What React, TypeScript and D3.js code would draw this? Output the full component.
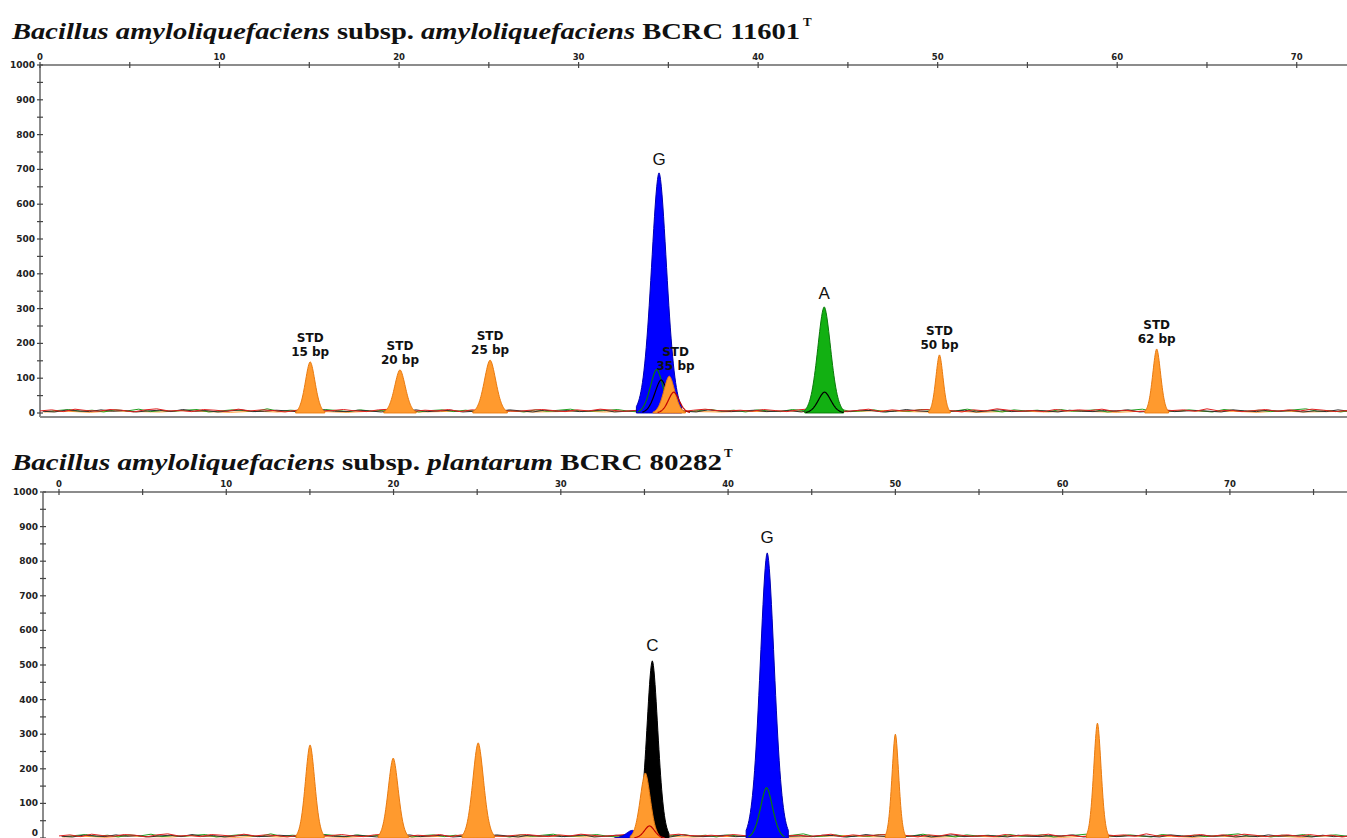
import React from 'react';
import * as d3 from 'd3';

// ---------- data ----------
const xTickValues = [0, 10, 20, 30, 40, 50, 60, 70];
const xMinorTicks = [5, 15, 25, 35, 45, 55, 65, 75];
const yTickValues = [0, 100, 200, 300, 400, 500, 600, 700, 800, 900, 1000];
const yMinorTicks = [50, 150, 250, 350, 450, 550, 650, 750, 850, 950];

const titleTopParts = [
  { t: 'Bacillus amyloliquefaciens', italic: true },
  { t: ' subsp. ', italic: false },
  { t: 'amyloliquefaciens', italic: true },
  { t: ' BCRC 11601', italic: false },
];
const titleBottomParts = [
  { t: 'Bacillus amyloliquefaciens', italic: true },
  { t: ' subsp. ', italic: false },
  { t: 'plantarum', italic: true },
  { t: ' BCRC 80282', italic: false },
];
const titleSuperscript = 'T';

// peaks: dye, centre (x), height, width (sigma), filled
const topPeaks = [
  { dye: 'orange', x: 15.05, h: 147, s: 0.27, fill: true },
  { dye: 'orange', x: 20.05, h: 124, s: 0.3, fill: true },
  { dye: 'orange', x: 25.07, h: 152, s: 0.32, fill: true },
  { dye: 'blue', x: 34.48, h: 690, s: 0.42, fill: true },
  { dye: 'green', x: 34.35, h: 125, s: 0.35, fill: false },
  { dye: 'black', x: 34.6, h: 95, s: 0.35, fill: false },
  { dye: 'orange', x: 35.05, h: 106, s: 0.3, fill: true },
  { dye: 'red', x: 35.3, h: 60, s: 0.3, fill: false },
  { dye: 'green', x: 43.68, h: 305, s: 0.36, fill: true },
  { dye: 'black', x: 43.7, h: 60, s: 0.35, fill: false },
  { dye: 'orange', x: 50.1, h: 167, s: 0.2, fill: true },
  { dye: 'orange', x: 62.2, h: 184, s: 0.22, fill: true },
];
const bottomPeaks = [
  { dye: 'orange', x: 15.01, h: 269, s: 0.28, fill: true },
  { dye: 'orange', x: 19.98, h: 231, s: 0.3, fill: true },
  { dye: 'orange', x: 25.06, h: 275, s: 0.32, fill: true },
  { dye: 'blue', x: 34.27, h: 22, s: 0.35, fill: true },
  { dye: 'black', x: 35.47, h: 512, s: 0.33, fill: true },
  { dye: 'orange', x: 35.05, h: 188, s: 0.3, fill: true },
  { dye: 'red', x: 35.3, h: 35, s: 0.3, fill: false },
  { dye: 'blue', x: 42.34, h: 824, s: 0.42, fill: true },
  { dye: 'green', x: 42.3, h: 145, s: 0.36, fill: false },
  { dye: 'orange', x: 50.0, h: 300, s: 0.2, fill: true },
  { dye: 'orange', x: 62.08, h: 332, s: 0.22, fill: true },
];

const topStdLabels = [
  { x: 15.05, h: 147, lines: ['STD', '15 bp'] },
  { x: 20.05, h: 124, lines: ['STD', '20 bp'] },
  { x: 25.07, h: 152, lines: ['STD', '25 bp'] },
  { x: 35.4, h: 106, lines: ['STD', '35 bp'] },
  { x: 50.1, h: 167, lines: ['STD', '50 bp'] },
  { x: 62.2, h: 184, lines: ['STD', '62 bp'] },
];
const topBaseLabels = [
  { x: 34.48, h: 690, text: 'G' },
  { x: 43.68, h: 305, text: 'A' },
];
const bottomBaseLabels = [
  { x: 35.47, h: 512, text: 'C' },
  { x: 42.34, h: 824, text: 'G' },
];

// baseline noise read at 0.65-unit steps
const noiseRed = [
  6, 9, 4, 11, 7, 5, 10, 8, 3, 9, 12, 6, 7, 4, 10, 8, 5, 11, 6, 9, 7, 3, 8, 12, 5, 7, 10, 6, 4, 9,
  11, 7, 5, 8, 6, 10, 4, 9, 7, 12, 6, 5, 8, 10, 7, 4, 9, 6, 11, 8, 5, 7, 10, 6, 9, 4, 8, 11, 7, 6,
  8, 5, 10, 7, 4, 9, 12, 6, 8, 5, 7, 11, 4, 9, 6, 8, 10, 5, 7, 3, 9, 6, 12, 8, 5, 7, 4, 10, 6, 9,
  7, 11, 5, 8, 4, 6, 10, 7, 9, 5, 12, 6, 8, 4, 7, 10, 5, 9, 6, 11, 8, 4, 7, 9, 5, 10, 6, 8, 3, 7,
];
const noiseGreen = [
  4, 7, 10, 5, 8, 3, 9, 6, 11, 4, 7, 5, 8, 10, 3, 6, 9, 7, 4, 12, 5, 8, 6, 3, 10, 7, 4, 9, 5, 8,
  6, 11, 3, 7, 9, 4, 8, 5, 10, 6, 7, 3, 9, 5, 8, 11, 4, 6, 7, 10, 5, 3, 8, 6, 9, 4, 7, 10, 5, 8,
  3, 9, 6, 4, 10, 7, 5, 8, 12, 4, 6, 9, 3, 7, 5, 10, 8, 4, 6, 11, 5, 7, 3, 9, 6, 8, 4, 10, 5, 7,
  9, 3, 6, 8, 11, 4, 7, 5, 9, 6, 3, 10, 7, 5, 8, 4, 6, 9, 12, 5, 7, 3, 8, 6, 10, 4, 7, 9, 5, 6,
];
const noiseBlack = [
  5, 3, 8, 6, 4, 9, 5, 7, 3, 6, 8, 4, 10, 5, 7, 3, 6, 9, 4, 5, 8, 6, 3, 7, 9, 5, 4, 8, 6, 3,
  7, 5, 9, 4, 6, 8, 3, 5, 7, 4, 9, 6, 3, 8, 5, 7, 4, 6, 9, 3, 5, 8, 6, 4, 7, 5, 3, 9, 6, 4,
  6, 8, 4, 5, 7, 3, 9, 5, 6, 4, 8, 7, 3, 5, 10, 6, 4, 7, 5, 8, 3, 6, 9, 4, 5, 7, 6, 3, 8, 5,
  4, 7, 6, 9, 3, 5, 8, 4, 6, 7, 5, 3, 9, 6, 4, 8, 5, 7, 3, 6, 4, 9, 5, 7, 6, 3, 8, 4, 5, 7,
];
const noiseOrange = [
  3, 5, 2, 6, 4, 3, 7, 4, 2, 5, 3, 6, 4, 2, 5, 7, 3, 4, 6, 2, 5, 3, 4, 6, 3, 5, 2, 7, 4, 3,
  5, 4, 6, 2, 3, 5, 7, 4, 3, 6, 2, 4, 5, 3, 6, 4, 2, 5, 3, 7, 4, 5, 2, 6, 3, 4, 5, 2, 6, 4,
];
const noiseStep = 0.65;
const noiseStepOrange = 1.3;

// ---------- styles ----------
const dyeFill: Record<string, string> = {
  blue: '#0000ff',
  green: '#12b012',
  black: '#000000',
  orange: '#ff9a2e',
  red: '#e01010',
};
const dyeStroke: Record<string, string> = {
  blue: '#0000b0',
  green: '#0a7a0a',
  black: '#000000',
  orange: '#e87a10',
  red: '#c00000',
};
const axisColor = '#8c8c8c';
const tickFont = 'DejaVu Sans, Verdana, sans-serif';

type Panel = {
  x: d3.ScaleLinear<number, number>;
  y: d3.ScaleLinear<number, number>;
  axisX: number;
  axisY: number;
  bottomY: number;
};

function peakPoints(p: { x: number; h: number; s: number }) {
  const n = 60;
  const pts: [number, number][] = [];
  for (let i = 0; i <= n; i++) {
    const xv = p.x - 3 * p.s + (6 * p.s * i) / n;
    const d = (xv - p.x) / p.s;
    pts.push([xv, p.h * Math.exp(-0.5 * Math.pow(Math.abs(d), 1.8))]);
  }
  return pts;
}

function Axes({ P, showBottomLine }: { P: Panel; showBottomLine: boolean }) {
  return (
    <g>
      <line x1={P.axisX} x2={1347} y1={P.axisY} y2={P.axisY} stroke={axisColor} strokeWidth={2} />
      <line x1={P.axisX} x2={P.axisX} y1={P.axisY} y2={P.bottomY} stroke={axisColor} strokeWidth={2} />
      {showBottomLine && (
        <line x1={P.axisX} x2={1347} y1={P.bottomY} y2={P.bottomY} stroke={axisColor} strokeWidth={2} />
      )}
      {xTickValues.concat(xMinorTicks).filter((v) => P.x(v) <= 1347).map((v) => (
        <line key={'xt' + v} x1={P.x(v)} x2={P.x(v)} y1={P.axisY - 3} y2={P.axisY + 3} stroke="#444" strokeWidth={1.2} />
      ))}
      {xTickValues.map((v) => (
        <text key={'xl' + v} x={P.x(v)} y={P.axisY - 5} textAnchor="middle" fontFamily={tickFont} fontWeight="bold" fontSize={8.5} fill="#222">
          {v}
        </text>
      ))}
      {yTickValues.concat(yMinorTicks).map((v) => (
        <line key={'yt' + v} x1={P.axisX - 3} x2={P.axisX + 3} y1={P.y(v)} y2={P.y(v)} stroke="#444" strokeWidth={1.2} />
      ))}
      {yTickValues.map((v) => (
        <text key={'yl' + v} x={P.axisX - 5} y={Math.min(P.y(v) + 3, 836)} textAnchor="end" fontFamily={tickFont} fontWeight="bold" fontSize={9} fill="#222">
          {v}
        </text>
      ))}
    </g>
  );
}

function Trace({ P, peaks }: { P: Panel; peaks: typeof topPeaks }) {
  const area = d3
    .area<[number, number]>()
    .x((d) => P.x(d[0]))
    .y0(P.y(0))
    .y1((d) => P.y(d[1]));
  const line = d3
    .line<[number, number]>()
    .x((d) => P.x(d[0]))
    .y((d) => P.y(d[1]));
  const noiseLine = (arr: number[], step: number, off: number) =>
    line(arr.map((v, i) => [i * step + off, v] as [number, number]).filter((d) => d[0] <= P.x.domain()[1] + 1));
  return (
    <g>
      <path d={noiseLine(noiseOrange, noiseStepOrange, 0.2) || ''} fill="none" stroke="#ff9a2e" strokeWidth={1} />
      <path d={noiseLine(noiseGreen, noiseStep, 0.3) || ''} fill="none" stroke="#20a020" strokeWidth={1} />
      <path d={noiseLine(noiseBlack, noiseStep, 0.15) || ''} fill="none" stroke="#333" strokeWidth={1} />
      <path d={noiseLine(noiseRed, noiseStep, 0) || ''} fill="none" stroke="#e02020" strokeWidth={1} />
      {peaks.map((p, i) =>
        p.fill ? (
          <path key={i} d={area(peakPoints(p)) || ''} fill={dyeFill[p.dye]} stroke={dyeStroke[p.dye]} strokeWidth={1} />
        ) : (
          <path key={i} d={line(peakPoints(p)) || ''} fill="none" stroke={dyeStroke[p.dye]} strokeWidth={1.2} />
        )
      )}
    </g>
  );
}

function Title({ parts, x, y, len, supX, supY }: { parts: typeof titleTopParts; x: number; y: number; len: number; supX: number; supY: number }) {
  return (
    <g>
      <text x={x} y={y} fontFamily="'Liberation Serif', 'Times New Roman', serif" fontWeight="bold" fontSize={24} textLength={len} lengthAdjust="spacingAndGlyphs" fill="#111">
        {parts.map((p, i) => (
          <tspan key={i} fontStyle={p.italic ? 'italic' : 'normal'}>
            {p.t}
          </tspan>
        ))}
      </text>
      <text x={supX} y={supY} fontFamily="'Liberation Serif', 'Times New Roman', serif" fontWeight="bold" fontSize={13} fill="#111">
        {titleSuperscript}
      </text>
    </g>
  );
}

export default function App() {
  const top: Panel = {
    x: d3.scaleLinear().domain([0, 72.8]).range([40, 1347]),
    y: d3.scaleLinear().domain([0, 1000]).range([413, 65]),
    axisX: 40,
    axisY: 65,
    bottomY: 417,
  };
  const bottom: Panel = {
    x: d3.scaleLinear().domain([0, 77]).range([59, 1347]),
    y: d3.scaleLinear().domain([0, 1000]).range([838, 492]),
    axisX: 43,
    axisY: 492,
    bottomY: 840,
  };
  const labelFont = 'DejaVu Sans, Verdana, sans-serif';
  return (
    <svg width={1347} height={838} style={{ position: 'absolute', left: 0, top: 0, background: '#fff' }}>
      <rect width={1347} height={838} fill="#fff" />
      <Title parts={titleTopParts} x={12} y={39} len={788} supX={803} supY={26} />
      <Title parts={titleBottomParts} x={12} y={470} len={710} supX={724} supY={457} />

      <Axes P={top} showBottomLine={true} />
      <Trace P={top} peaks={topPeaks} />
      {topStdLabels.map((l, i) => (
        <text key={'s' + i} x={top.x(l.x)} y={top.y(l.h) - 20} textAnchor="middle" fontFamily={labelFont} fontWeight="bold" fontSize={12} fill="#111">
          <tspan x={top.x(l.x)} dy={0}>{l.lines[0]}</tspan>
          <tspan x={top.x(l.x)} dy={14}>{l.lines[1]}</tspan>
        </text>
      ))}
      {topBaseLabels.map((l, i) => (
        <text key={'b' + i} x={top.x(l.x)} y={top.y(l.h) - 8} textAnchor="middle" fontFamily="'Liberation Sans', Arial, sans-serif" fontSize={17} fill="#111">
          {l.text}
        </text>
      ))}

      <Axes P={bottom} showBottomLine={false} />
      <Trace P={bottom} peaks={bottomPeaks} />
      {bottomBaseLabels.map((l, i) => (
        <text key={'c' + i} x={bottom.x(l.x)} y={bottom.y(l.h) - 10} textAnchor="middle" fontFamily="'Liberation Sans', Arial, sans-serif" fontSize={17} fill="#111">
          {l.text}
        </text>
      ))}
    </svg>
  );
}
